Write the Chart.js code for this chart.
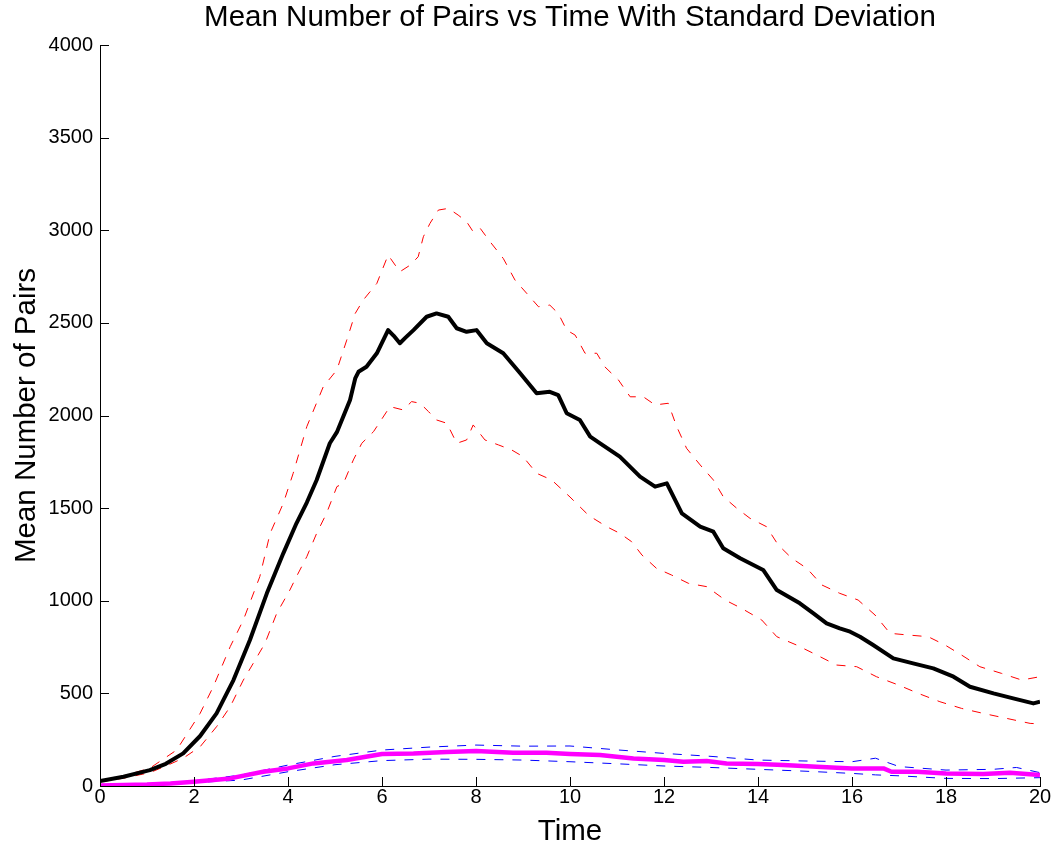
<!DOCTYPE html>
<html>
<head>
<meta charset="utf-8">
<script src="https://cdn.jsdelivr.net/npm/chart.js@4.4.0/dist/chart.umd.min.js"></script>
<style>
  html, body { margin: 0; padding: 0; background: #ffffff; }
  #wrap { width: 1053px; height: 846px; }
</style>
</head>
<body>
<div id="wrap"><canvas id="c" width="1053" height="846"></canvas></div>
<script>
// ---- Data ----
const titleText = 'Mean Number of Pairs vs Time With Standard Deviation';
const xTitle = 'Time';
const yTitle = 'Mean Number of Pairs';
const xTickLabels = ['0','2','4','6','8','10','12','14','16','18','20'];
const yTickLabels = ['0','500','1000','1500','2000','2500','3000','3500','4000'];

// Mean (black, thick)
const meanT = [0,0.5,1.06,1.4,1.77,2.13,2.48,2.84,3.19,3.55,3.9,4.18,4.4,4.61,4.89,5.04,5.32,5.43,5.5,5.67,5.89,6.13,6.25,6.38,6.5,6.67,6.95,7.16,7.41,7.59,7.8,8.01,8.23,8.58,8.94,9.29,9.57,9.75,9.93,10.21,10.43,10.64,11.06,11.49,11.81,12.06,12.38,12.77,13.05,13.26,13.62,14.11,14.4,14.89,15.18,15.46,15.74,15.96,16.17,16.45,16.88,17.3,17.73,18.16,18.51,19.01,19.43,19.86,20];
const meanV = [27,50,86,120,176,270,392,572,788,1040,1256,1418,1530,1652,1850,1910,2084,2200,2236,2263,2336,2461,2430,2390,2420,2461,2533,2551,2533,2471,2452,2461,2390,2336,2228,2120,2128,2110,2012,1976,1886,1850,1778,1670,1616,1634,1472,1400,1373,1283,1229,1166,1058,986,932,878,851,833,806,761,689,662,635,590,536,500,473,446,455];

// Mean + SD (red dashed)
const upperT = [0,0.5,1.06,1.63,2.13,2.41,2.77,3.05,3.4,3.62,3.9,4.11,4.4,4.75,5.04,5.25,5.43,5.6,5.89,6.13,6.38,6.6,6.77,6.88,7.02,7.2,7.41,7.62,7.8,7.94,8.09,8.3,8.58,8.83,9.08,9.33,9.57,9.75,9.93,10.11,10.32,10.57,10.74,11.03,11.28,11.56,11.81,12.09,12.27,12.48,12.77,13.05,13.26,13.55,13.83,14.18,14.43,14.72,15.04,15.36,15.74,16.13,16.49,16.81,17.2,17.62,17.98,18.33,18.72,19.18,19.61,20];
const upperV = [30,55,96,194,392,536,752,896,1130,1364,1526,1688,1940,2155,2246,2407,2551,2623,2713,2866,2776,2812,2857,2965,3037,3109,3118,3082,3046,2992,3010,2938,2848,2731,2659,2587,2596,2551,2461,2434,2336,2336,2263,2192,2101,2101,2057,2066,1940,1823,1733,1652,1562,1499,1445,1400,1301,1229,1175,1085,1040,1004,923,824,815,806,761,707,644,608,572,590];

// Mean - SD (red dashed)
const lowerT = [0,0.5,1.06,1.42,1.77,2.13,2.48,2.77,3.05,3.26,3.51,3.76,4.04,4.18,4.4,4.61,4.82,5.04,5.18,5.39,5.57,5.82,5.96,6.17,6.45,6.63,6.81,6.99,7.16,7.38,7.59,7.8,7.94,8.19,8.48,8.76,9.0,9.29,9.61,10.0,10.4,10.78,11.06,11.31,11.53,11.84,12.16,12.52,12.91,13.3,13.65,14.08,14.4,14.82,15.25,15.67,16.1,16.52,16.99,17.41,17.87,18.33,18.79,19.29,19.79,20];
const lowerV = [22,42,72,110,150,212,320,428,572,662,770,932,1058,1130,1238,1364,1472,1616,1634,1760,1850,1913,1967,2048,2030,2075,2066,2021,1976,1958,1850,1868,1949,1868,1841,1814,1778,1688,1652,1560,1460,1400,1364,1319,1247,1175,1139,1094,1076,1004,959,896,806,761,707,653,644,590,545,500,455,419,392,365,338,335];

// Second mean (magenta, thick)
const mean2T = [0,0.5,1,1.5,2,2.77,3.47,4,4.54,5.25,6,6.67,7.38,8,8.79,9.5,10,10.64,11.35,12,12.41,12.91,13.33,14,14.54,15.25,16,16.67,16.84,17.38,18,18.79,19.36,20];
const mean2V = [3,5,8,14,23,41,77,95,122,140,173,176,184,189,180,180,173,167,149,140,131,135,122,119,113,104,95,95,77,77,68,65,72,59];

// Second mean +/- SD (blue dashed)
const up2T = [0,1,2,3,4,5,6,7,8,9,10,11,12,13,14,15,16,16.5,17,18,19,19.5,20];
const up2V = [4,10,28,59,113,160,194,210,221,215,216,195,176,160,140,135,131,150,105,86,90,100,72];
const lo2T = [0,1,2,3,4,5,6,7,8,9,10,11,12,13,14,15,16,16.5,17,18,19,20];
const lo2V = [2,6,18,32,77,115,137,145,144,140,131,120,108,100,90,80,68,60,55,41,40,45];

// ---- Build chart ----
const pts = (t, v) => t.map((x, i) => ({ x: x, y: v[i] }));
const FONT = "'Liberation Sans', Arial, Helvetica, sans-serif";

const datasets = [
  { label: 'mean', data: pts(meanT, meanV), borderColor: '#000000', borderWidth: 4, order: 1 },
  { label: 'mean2', data: pts(mean2T, mean2V), borderColor: '#ff00ff', borderWidth: 4.5, order: 2 },
  { label: 'upper', data: pts(upperT, upperV), borderColor: '#ff0000', borderWidth: 1, borderDash: [9, 9], order: 3 },
  { label: 'lower', data: pts(lowerT, lowerV), borderColor: '#ff0000', borderWidth: 1, borderDash: [9, 9], order: 4 },
  { label: 'up2', data: pts(up2T, up2V), borderColor: '#0000ff', borderWidth: 1, borderDash: [9, 9], order: 5 },
  { label: 'lo2', data: pts(lo2T, lo2V), borderColor: '#0000ff', borderWidth: 1, borderDash: [9, 9], order: 6 }
];
datasets.forEach(d => { d.pointRadius = 0; d.tension = 0; d.fill = false; d.borderCapStyle = 'butt'; d.borderJoinStyle = 'round'; });

// Inward-pointing axis tick marks (MATLAB style)
const inwardTicks = {
  id: 'inwardTicks',
  afterDatasetsDraw(chart) {
    const ctx = chart.ctx;
    const xs = chart.scales.x, ys = chart.scales.y;
    const a = chart.chartArea;
    const len = 9;
    ctx.save();
    ctx.strokeStyle = '#000000';
    ctx.lineWidth = 1;
    ctx.beginPath();
    xs.ticks.forEach(t => {
      const px = Math.round(xs.getPixelForValue(t.value)) + 0.5;
      ctx.moveTo(px, a.bottom);
      ctx.lineTo(px, a.bottom - len);
    });
    ys.ticks.forEach(t => {
      const py = Math.round(ys.getPixelForValue(t.value)) + 0.5;
      ctx.moveTo(a.left, py);
      ctx.lineTo(a.left + len, py);
    });
    ctx.stroke();
    ctx.restore();
  }
};

new Chart(document.getElementById('c'), {
  type: 'line',
  data: { datasets: datasets },
  plugins: [inwardTicks],
  options: {
    responsive: false,
    devicePixelRatio: 1,
    animation: false,
    events: [],
    layout: { padding: { left: 0, right: 13, top: 0, bottom: 0 } },
    plugins: {
      legend: { display: false },
      tooltip: { enabled: false },
      title: {
        display: true,
        text: titleText,
        fullSize: false,
        color: '#000000',
        font: { family: FONT, size: 29.5, weight: 'normal' },
        padding: { top: 0, bottom: 9.6 }
      }
    },
    scales: {
      x: {
        type: 'linear',
        min: 0, max: 20,
        afterFit: s => { s.height = 60; s.paddingLeft = 0; s.paddingRight = 0; },
        ticks: {
          stepSize: 2,
          color: '#000000',
          padding: -1,
          maxRotation: 0,
          font: { family: FONT, size: 20 },
          callback: (v) => xTickLabels[Math.round(v / 2)]
        },
        grid: { drawOnChartArea: false, drawTicks: false, tickLength: 0, color: '#000000', lineWidth: 1 },
        border: { display: true, color: '#000000', width: 1 },
        title: { display: true, text: xTitle, color: '#000000', font: { family: FONT, size: 29.5 }, padding: { top: 0, bottom: -3.5 } }
      },
      y: {
        type: 'linear',
        min: 0, max: 4000,
        afterFit: s => { s.width = 100; s.paddingTop = 0; s.paddingBottom = 0; },
        ticks: {
          stepSize: 500,
          color: '#000000',
          padding: 7,
          font: { family: FONT, size: 20 },
          callback: (v) => yTickLabels[Math.round(v / 500)]
        },
        grid: { drawOnChartArea: false, drawTicks: false, tickLength: 0, color: '#000000', lineWidth: 1 },
        border: { display: true, color: '#000000', width: 1 },
        title: { display: true, text: yTitle, color: '#000000', font: { family: FONT, size: 29.5 }, padding: { top: 9, bottom: 0 } }
      }
    }
  }
});
</script>
</body>
</html>
